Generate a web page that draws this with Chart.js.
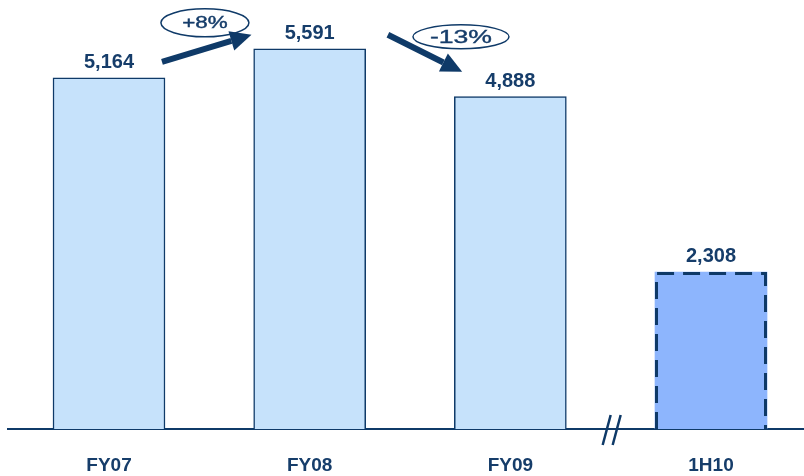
<!DOCTYPE html>
<html>
<head>
  <meta charset="utf-8" />
  <title>FY07 - 1H10</title>
  <script src="https://cdn.jsdelivr.net/npm/chart.js"></script>
  <style>
    body { margin: 0; background: #fff; }
    #wrap { width: 804px; height: 476px; position: relative; }
  </style>
</head>
<body>
  <div id="wrap"><canvas id="barChart"></canvas></div>

  <script>
    // data
    const categories = ['FY07', 'FY08', 'FY09', '1H10'];
    const values = [5164, 5591, 4888, 2308];
    const changeLabels = ['+8%', '-13%'];

    const NAVY = '#0f3a68';
    const TEXT = '#163d6a';
    const FONT = '"Liberation Sans", Arial, sans-serif';

    // value labels above each bar + dashed outline for the half-year bar
    const barLabels = {
      id: 'barLabels',
      afterDatasetsDraw(chart) {
        const ctx = chart.ctx;
        const meta = chart.getDatasetMeta(0);
        ctx.save();
        ctx.font = 'bold 20px ' + FONT;
        ctx.fillStyle = TEXT;
        ctx.textAlign = 'center';
        ctx.textBaseline = 'alphabetic';
        meta.data.forEach((el, i) => {
          ctx.fillText(values[i].toLocaleString('en-US'), el.x, el.y - 10);
        });

        // 1H10 bar: dashed border (bars can't dash their border natively)
        const last = meta.data[meta.data.length - 1];
        const p = last.getProps(['x', 'y', 'width', 'base'], true);
        const l = p.x - p.width / 2 + 1.5;
        const r = p.x + p.width / 2 - 1.5;
        ctx.strokeStyle = NAVY;
        ctx.lineWidth = 3;
        ctx.setLineDash([17, 9]);
        ctx.beginPath();
        ctx.moveTo(l, p.base);
        ctx.lineTo(l, p.y + 1.5);
        ctx.lineTo(r, p.y + 1.5);
        ctx.lineTo(r, p.base);
        ctx.stroke();
        ctx.restore();
      }
    };

    function arrow(ctx, x1, y1, x2, y2) {
      const ang = Math.atan2(y2 - y1, x2 - x1);
      const head = 21, half = 10;
      const bx = x2 - head * Math.cos(ang), by = y2 - head * Math.sin(ang);
      ctx.beginPath();
      ctx.lineWidth = 6;
      ctx.moveTo(x1, y1);
      ctx.lineTo(bx, by);
      ctx.stroke();
      ctx.beginPath();
      ctx.moveTo(x2, y2);
      ctx.lineTo(bx + half * Math.sin(ang), by - half * Math.cos(ang));
      ctx.lineTo(bx - half * Math.sin(ang), by + half * Math.cos(ang));
      ctx.closePath();
      ctx.fill();
    }

    // ellipse with the % change; the text in the original is stretched wide
    function bubble(ctx, cx, cy, rx, ry, text, size) {
      ctx.beginPath();
      ctx.lineWidth = 1.5;
      ctx.ellipse(cx, cy, rx, ry, 0, 0, Math.PI * 2);
      ctx.fillStyle = '#fff';
      ctx.fill();
      ctx.stroke();
      ctx.save();
      ctx.translate(cx, cy + 1);
      ctx.scale(1.4, 1);
      ctx.fillStyle = TEXT;
      ctx.strokeStyle = TEXT;
      ctx.lineWidth = 0.4;
      ctx.font = size + 'px ' + FONT;
      ctx.fillText(text, 0, 0);
      ctx.strokeText(text, 0, 0);
      ctx.restore();
    }

    // growth arrows, percentage bubbles and the axis break
    const annotations = {
      id: 'annotations',
      afterDraw(chart) {
        const ctx = chart.ctx;
        const xs = chart.scales.x, ys = chart.scales.y;
        const X = v => xs.getPixelForValue(v);
        const Y = v => ys.getPixelForValue(v);
        ctx.save();
        ctx.strokeStyle = NAVY;
        ctx.fillStyle = NAVY;
        ctx.textAlign = 'center';
        ctx.textBaseline = 'middle';
        bubble(ctx, X(0.478), Y(5973), 44, 14, changeLabels[0], 16);
        bubble(ctx, X(1.754), Y(5767), 48, 12, changeLabels[1], 19);

        ctx.fillStyle = NAVY;
        arrow(ctx, X(0.264), Y(5400), X(0.71), Y(5797));
        arrow(ctx, X(1.39), Y(5797), X(1.76), Y(5252));

        // axis break "//" between FY09 and 1H10
        const bx = X(2.5), by = chart.chartArea.bottom;
        ctx.lineWidth = 2.5;
        [-4, 6].forEach(dx => {
          ctx.beginPath();
          ctx.moveTo(bx + dx - 4, by + 16);
          ctx.lineTo(bx + dx + 4, by - 14);
          ctx.stroke();
        });
        ctx.restore();
      }
    };

    const ctx = document.getElementById('barChart').getContext('2d');
    new Chart(ctx, {
      type: 'bar',
      data: {
        datasets: [{
          data: values.map((v, i) => ({ x: i, y: v })),
          backgroundColor: ['#c6e2fb', '#c6e2fb', '#c6e2fb', '#8db5fd'],
          borderColor: NAVY,
          borderWidth: [1.5, 1.5, 1.5, 0],
          borderSkipped: 'start',
          barThickness: 112
        }]
      },
      options: {
        responsive: true,
        maintainAspectRatio: false,
        animation: false,
        layout: { padding: { left: 8, right: 0, top: 21, bottom: 0 } },
        plugins: { legend: { display: false }, tooltip: { enabled: false } },
        scales: {
          x: {
            type: 'linear',
            offset: false,
            min: -0.5033,
            max: 3.4634,
            grid: { display: true, drawOnChartArea: false, drawTicks: true, tickLength: 26, tickColor: 'rgba(0,0,0,0)' },
            border: { color: NAVY, width: 2 },
            afterBuildTicks: axis => { axis.ticks = categories.map((_, i) => ({ value: i })); },
            ticks: {
              autoSkip: false,
              maxRotation: 0,
              padding: 1,
              color: TEXT,
              font: { family: FONT, size: 19, weight: 'bold', lineHeight: 1 },
              callback: v => categories[v]
            }
          },
          y: {
            display: false,
            min: 0,
            max: 6000
          }
        }
      },
      plugins: [barLabels, annotations]
    });
  </script>
</body>
</html>
